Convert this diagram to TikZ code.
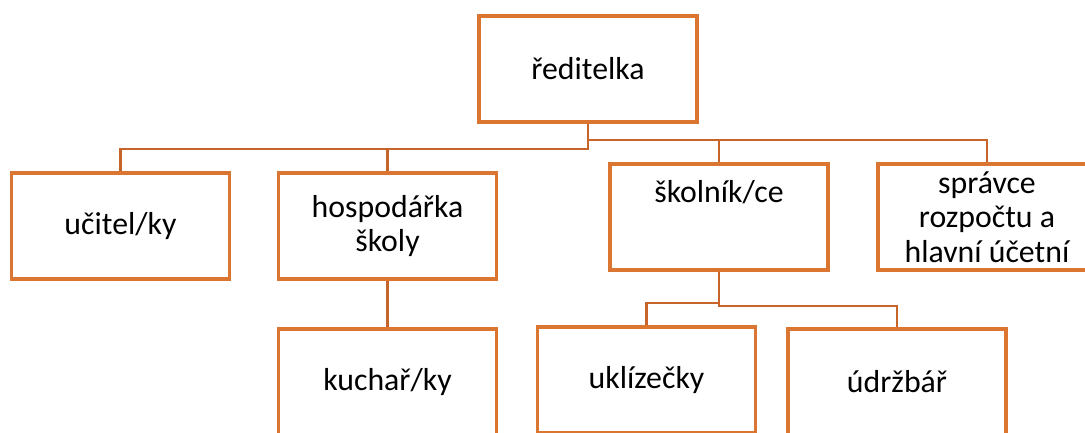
\documentclass[tikz,border=0pt]{standalone}
\usepackage{fontspec}
\setmainfont{Carlito}
\usepackage{xcolor}
\usepackage{tikz}
\definecolor{boxline}{RGB}{219,117,50}
\definecolor{conline}{RGB}{198,100,42}

\begin{document}
\begin{tikzpicture}[x=1pt, y=-1pt,
    box/.style={draw=boxline, line width=3.6pt, minimum width=218pt, minimum height=106pt,
      inner sep=0pt, align=center, font=\fontsize{31.8}{34.5}\selectfont},
    topbox/.style={box, text height=21pt, text depth=51pt},
    conn/.style={draw=conline, line width=2.4pt}]
    \useasboundingbox (0,0) rectangle (1085,432);
    \clip (0,0) rectangle (1085,432);
    \node[box] (A) at (588,69) {ředitelka};
    \node[box] (B1) at (120.5,226) {učitel/ky};
    \node[box] (B2) at (387.5,226) {hospodářka\\školy};
    \node[topbox] (B3) at (719,217) {školník/ce};
    \node[box] (B4) at (987,217) {správce\\rozpočtu a\\hlavní účetní};
    \node[box] (C1) at (387.5,382) {kuchař/ky};
    \node[box] (C2) at (646.5,380) {uklízečky};
    \node[box] (C3) at (897,382) {údržbář};
    \path [conn] (A.south) -- ++(0,25) -| (B1.north);
    \path [conn] (A.south) -- ++(0,25) -| (B2.north);
    \path [conn] (A.south) -- ++(0,16) -| (B3.north);
    \path [conn] (A.south) -- ++(0,16) -| (B4.north);
    \path [conn] (B2.south) -- (C1.north);
    \path [conn] (B3.south) -- ++(0,31) -| (C2.north);
    \path [conn] (B3.south) -- ++(0,34) -| (C3.north);
  \end{tikzpicture}
\end{document}
